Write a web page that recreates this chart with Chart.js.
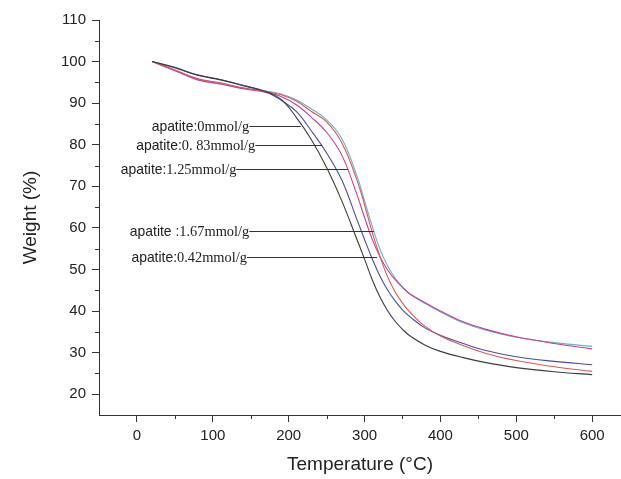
<!DOCTYPE html>
<html>
<head>
<meta charset="utf-8">
<script src="https://cdn.jsdelivr.net/npm/chart.js@4.4.0/dist/chart.umd.min.js"></script>
<style>
  html, body { margin: 0; padding: 0; background: #fff; }
</style>
</head>
<body>
<canvas id="tga" width="621" height="479"></canvas>
<script>
// TGA curves, weight (%) vs temperature (°C)
var temps = [20, 50, 80, 110, 140, 170, 190, 210, 230, 250, 270, 290, 300, 310, 320, 330, 340, 350, 360, 380, 400, 430, 460, 500, 550, 600];

var w0   = [100, 98.5, 96.7, 95.6, 94.2, 92.8, 90.9, 86.6, 81.2, 74.5, 66.5, 57.2, 52.5, 47.6, 43.5, 40.2, 37.6, 35.6, 34.0, 31.8, 30.3, 28.8, 27.6, 26.4, 25.4, 24.7];
var w083 = [100, 98.6, 96.8, 95.7, 94.3, 92.7, 90.7, 88.0, 83.3, 78.0, 71.5, 62.0, 57.2, 52.6, 48.5, 45.2, 42.5, 40.3, 38.6, 35.9, 34.2, 32.2, 30.5, 29.0, 27.9, 27.1];
var w042 = [100, 98.0, 95.9, 94.9, 93.7, 92.8, 92.0, 90.5, 88.0, 85.5, 80.5, 71.5, 65.5, 59.0, 53.3, 48.4, 44.7, 41.9, 39.7, 36.3, 34.0, 31.7, 29.8, 28.1, 26.6, 25.5];
var w125 = [100, 97.8, 95.6, 94.6, 93.5, 92.6, 91.6, 89.6, 86.6, 83.0, 77.5, 68.0, 62.5, 57.3, 53.2, 50.0, 47.6, 45.7, 44.1, 42.0, 40.0, 37.4, 35.6, 33.8, 32.2, 30.9];
var w167 = [100, 97.9, 95.7, 94.7, 93.6, 92.9, 92.2, 90.8, 88.6, 86.0, 81.5, 72.5, 66.5, 60.5, 55.0, 51.0, 48.0, 45.8, 44.0, 41.8, 39.8, 37.2, 35.4, 33.7, 32.4, 31.5];

var xMajor = [0, 100, 200, 300, 400, 500, 600];
var xMinor = [50, 150, 250, 350, 450, 550];
var yMajor = [20, 30, 40, 50, 60, 70, 80, 90, 100, 110];
var yMinor = [25, 35, 45, 55, 65, 75, 85, 95, 105];

// leader labels: text (sans part + serif part), where the text ends (T) and the curve point it points at
var noteSans  = ['apatite:', 'apatite:', 'apatite:', 'apatite :', 'apatite:'];
var noteSerif = ['0mmol/g', '0. 83mmol/g', '1.25mmol/g', '1.67mmol/g', '0.42mmol/g'];
var noteFromT = [148, 156, 131, 148, 145];
var noteToT   = [216, 244, 278, 312.5, 316.5];
var noteToW   = [84.5, 79.9, 74.1, 59.2, 53.0];

function pts(ws) {
    var out = [];
    for (var i = 0; i < temps.length; i++) {
        out.push({ x: temps[i], y: ws[i] });
    }
    return out;
}

function series(label, ws, color) {
    return {
        label: label,
        data: pts(ws),
        borderColor: color,
        backgroundColor: color,
        borderWidth: 1.1,
        pointRadius: 0,
        fill: false,
        tension: 0.4
    };
}

var extras = {
    id: 'extras',
    afterDraw: function(chart) {
        var ctx = chart.ctx;
        var xs = chart.scales.x, ys = chart.scales.y;
        var area = chart.chartArea;
        ctx.save();
        ctx.strokeStyle = '#333';
        ctx.lineWidth = 1;

        // minor ticks
        ctx.beginPath();
        xMinor.forEach(function(v) {
            var px = Math.round(xs.getPixelForValue(v)) + 0.5;
            ctx.moveTo(px, area.bottom);
            ctx.lineTo(px, area.bottom + 4);
        });
        yMinor.forEach(function(v) {
            var py = Math.round(ys.getPixelForValue(v)) + 0.5;
            ctx.moveTo(area.left, py);
            ctx.lineTo(area.left - 4, py);
        });
        ctx.stroke();

        // leader lines and their labels
        ctx.textBaseline = 'middle';
        ctx.fillStyle = '#222';
        for (var i = 0; i < noteSans.length; i++) {
            var x0 = xs.getPixelForValue(noteFromT[i]);
            var x1 = xs.getPixelForValue(noteToT[i]);
            var y = Math.round(ys.getPixelForValue(noteToW[i])) + 0.5;
            ctx.beginPath();
            ctx.moveTo(x0, y);
            ctx.lineTo(x1, y);
            ctx.stroke();

            ctx.font = '14.4px "Liberation Serif", "Times New Roman", serif';
            var wSerif = ctx.measureText(noteSerif[i]).width;
            ctx.textAlign = 'right';
            ctx.fillText(noteSerif[i], x0, y + 1);
            ctx.font = '13.9px "Liberation Sans", Arial, sans-serif';
            ctx.fillText(noteSans[i], x0 - wSerif, y + 1);
        }
        ctx.restore();
    }
};

var tickFont = { family: '"Liberation Sans", Arial, sans-serif', size: 15 };

new Chart(document.getElementById('tga').getContext('2d'), {
    type: 'line',
    data: {
        datasets: [
            series('apatite:0mmol/g', w0, '#3c3c3c'),
            series('apatite:0.42mmol/g', w042, '#d65a56'),
            series('apatite:0.83mmol/g', w083, '#4b4ba3'),
            series('apatite:1.25mmol/g', w125, '#c73a9e'),
            series('apatite:1.67mmol/g', w167, '#62b7bd')
        ]
    },
    options: {
        responsive: false,
        animation: false,
        layout: { padding: { left: 0, right: 0, top: 20, bottom: 0 } },
        plugins: {
            legend: { display: false },
            tooltip: { enabled: false }
        },
        scales: {
            x: {
                type: 'linear',
                min: -50,
                max: 638,
                afterBuildTicks: function(scale) {
                    scale.ticks = xMajor.map(function(v) { return { value: v }; });
                },
                afterFit: function(scale) { scale.height = 64; },
                grid: { drawOnChartArea: false, drawTicks: true, tickLength: 7, color: '#333' },
                border: { display: true, color: '#333', width: 1 },
                ticks: { color: '#222', font: tickFont, padding: 5, maxRotation: 0 },
                title: {
                    display: true,
                    text: 'Temperature (°C)',
                    color: '#222',
                    font: { family: '"Liberation Sans", Arial, sans-serif', size: 19 },
                    padding: { top: 0, bottom: 3 }
                }
            },
            y: {
                type: 'linear',
                min: 15,
                max: 110,
                afterBuildTicks: function(scale) {
                    scale.ticks = yMajor.map(function(v) { return { value: v }; });
                },
                afterFit: function(scale) { scale.width = 99; },
                grid: { drawOnChartArea: false, drawTicks: true, tickLength: 7, color: '#333' },
                border: { display: true, color: '#333', width: 1 },
                ticks: { color: '#222', font: tickFont, padding: 6 },
                title: {
                    display: true,
                    text: 'Weight (%)',
                    color: '#222',
                    font: { family: '"Liberation Sans", Arial, sans-serif', size: 19 },
                    padding: { top: 19, bottom: 0 }
                }
            }
        }
    },
    plugins: [extras]
});
</script>
</body>
</html>
